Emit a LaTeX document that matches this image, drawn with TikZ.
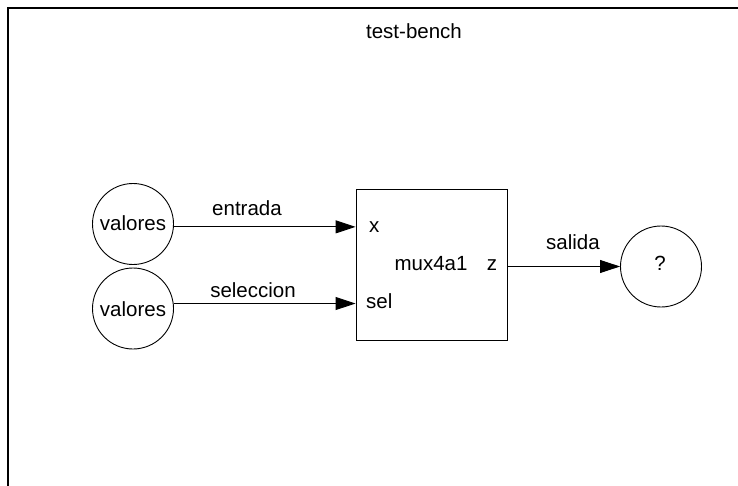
\documentclass[tikz,border=0pt]{standalone}
\usepackage{fontspec}
\setmainfont{Liberation Sans}
\usetikzlibrary{arrows.meta}
\begin{document}
\begin{tikzpicture}[x=1pt,y=-1pt,
  font=\fontsize{20.5}{24}\selectfont,
  blob/.style={draw,circle,line width=0.9pt,minimum size=81pt,inner sep=0pt},
  lbl/.style={inner sep=0pt,anchor=base},
  arr/.style={line width=0.9pt,-{Triangle[length=20pt,width=13pt]}},
  frame/.style={line width=1.8pt}]
\useasboundingbox (0,0) rectangle (738,486);
\coordinate (fbl) at (8,486);
\coordinate (ftl) at (8,8);
\coordinate (ftr) at (738,8);
\draw[frame] (fbl) -- (ftl) -- (ftr);
\node[lbl] (title) at (414,38.3) {test-bench};
\node[blob] (v1) at (133,224) {};
\node[blob] (v2) at (133,308.5) {};
\node[blob] (q) at (661,266.5) {};
\node[draw,line width=0.9pt,minimum width=151pt,minimum height=151pt,inner sep=0pt] (box) at (431.5,264.5) {};
\node[lbl] (t1) at (133,230) {valores};
\node[lbl] (t2) at (133,316.7) {valores};
\node[lbl] (tq) at (660,270) {?};
\node[lbl] (tx) at (374.3,232.7) {x};
\node[lbl] (tsel) at (379.3,308) {sel};
\node[lbl] (tmux) at (431,270) {mux4a1};
\node[lbl] (tz) at (492,270) {z};
\node[lbl] (le) at (247,215) {entrada};
\node[lbl] (ls) at (253,297.7) {seleccion};
\node[lbl] (lo) at (573,250) {salida};
\draw[arr] (v1.-4) -- (v1.-4 -| box.west);
\draw[arr] (v2.7) -- (v2.7 -| box.west);
\draw[arr] (box.east |- q.west) -- (q.west);
\end{tikzpicture}
\end{document}
